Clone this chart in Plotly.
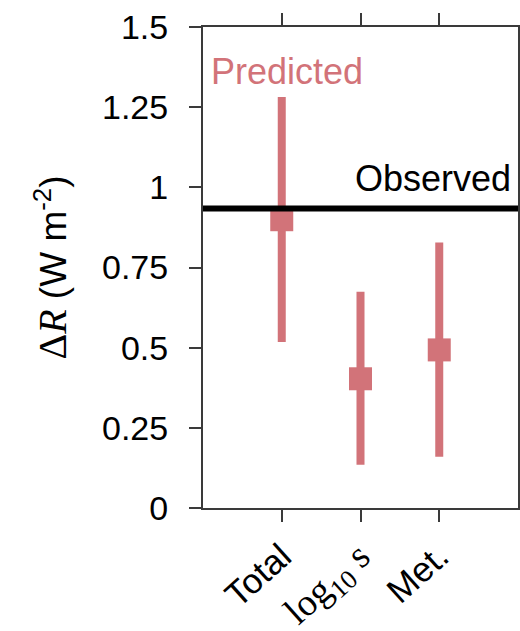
import plotly.graph_objects as go

# Predicted contributions (central value with lower/upper bounds) and observed value
categories = ["Total", "log10 s", "Met."]
tick_labels = [
    "Total",
    "<span style='font-family:Liberation Serif;font-size:38px'>log<sub>10</sub> s</span>",
    "Met.",
]
x_pos = [1, 2, 3]
predicted = [0.899, 0.403, 0.493]
lower = [0.518, 0.135, 0.160]
upper = [1.282, 0.674, 0.828]
observed = 0.934

PINK = "#D27379"
AXIS = "#3a3a3a"
FONT = "Liberation Sans, Arial, Helvetica, sans-serif"

err_plus = [u - p for u, p in zip(upper, predicted)]
err_minus = [p - l for p, l in zip(predicted, lower)]

fig = go.Figure()
fig.add_trace(go.Scatter(
    x=x_pos, y=predicted, mode="markers",
    marker=dict(symbol="square", size=23, color=PINK),
    error_y=dict(type="data", symmetric=False, array=err_plus,
                 arrayminus=err_minus, thickness=8, width=0, color=PINK),
    showlegend=False, hoverinfo="skip",
))

fig.add_shape(type="line", xref="paper", yref="y", x0=0, x1=1,
              y0=observed, y1=observed, line=dict(color="black", width=6))

fig.add_annotation(text="Predicted", xref="paper", yref="y", x=0.02, y=1.36,
                   xanchor="left", yanchor="middle", showarrow=False,
                   font=dict(size=36, color=PINK, family=FONT))
fig.add_annotation(text="Observed", xref="paper", yref="y", x=0.985, y=observed,
                   xanchor="right", yanchor="bottom", yshift=8, showarrow=False,
                   font=dict(size=36, color="black", family=FONT))

fig.update_layout(
    width=520, height=631,
    margin=dict(l=203, r=2, t=27, b=123, autoexpand=False),
    paper_bgcolor="white", plot_bgcolor="white",
    font=dict(family=FONT, size=34, color="black"),
    xaxis=dict(range=[0, 4], tickvals=x_pos, ticktext=tick_labels,
               tickangle=-42, ticks="outside", ticklen=12, tickwidth=2,
               tickcolor=AXIS, showline=True, linecolor=AXIS, linewidth=2,
               mirror="ticks", showgrid=False, zeroline=False,
               automargin=False, tickfont=dict(size=35)),
    yaxis=dict(range=[0, 1.5], tickvals=[0, 0.25, 0.5, 0.75, 1, 1.25, 1.5],
               ticktext=["0", "0.25", "0.5", "0.75", "1", "1.25", "1.5"],
               ticks="outside", ticklen=12, tickwidth=2, tickcolor=AXIS,
               showline=True, linecolor=AXIS, linewidth=2, mirror="ticks",
               showgrid=False, zeroline=False, ticklabelstandoff=14,
               automargin=False, tickfont=dict(size=34),
               title=dict(text="<span style='font-family:Liberation Serif;font-size:40px'>Δ<i>R</i></span> (W m<sup>-2</sup>)",
                          font=dict(size=37), standoff=24)),
)

fig.write_html("out.html")
